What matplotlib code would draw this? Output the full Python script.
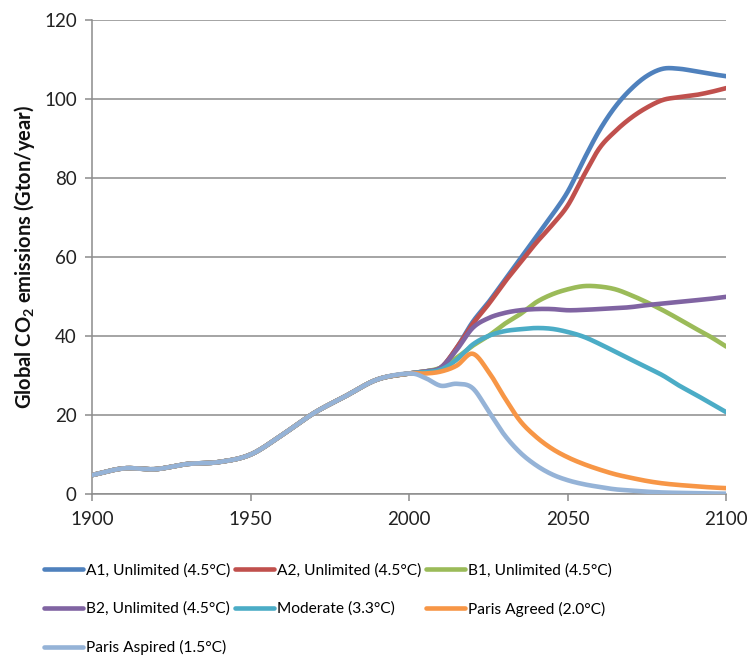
import numpy as np
import matplotlib
matplotlib.use('Agg')
import matplotlib.pyplot as plt

plt.rcParams['font.family'] = ['Lato', 'DejaVu Sans']
plt.rcParams['mathtext.fontset'] = 'custom'
plt.rcParams['mathtext.rm'] = 'Lato'
plt.rcParams['mathtext.bf'] = 'Lato:bold'

# historical emissions, shared by every scenario
hist_years = [1900, 1910, 1920, 1930, 1940, 1950, 1960, 1970, 1980, 1990, 2000]
hist_values = [4.8, 6.5, 6.3, 7.6, 8.1, 10.0, 15.0, 20.5, 24.8, 29.0, 30.5]

# scenario projections, 5-year steps from 2000
future_years = list(range(2000, 2101, 5))
a1 = [30.5, 31, 32, 37, 43.5, 48.5, 54, 59.5, 65, 70.5, 76.5, 84.5, 92, 98, 102.5, 105.8, 107.6, 107.6, 107, 106.3, 105.7]
a2 = [30.5, 31, 32, 37, 43, 48, 53.5, 58.5, 63.5, 68, 73, 80.5, 87.5, 91.8, 95.2, 97.8, 99.7, 100.4, 100.9, 101.7, 102.7]
b1 = [30.5, 31, 32, 34.5, 37.5, 40, 43, 45.5, 48.5, 50.5, 51.8, 52.6, 52.5, 51.8, 50.3, 48.5, 46.5, 44.3, 42, 39.8, 37.3]
b2 = [30.5, 31, 32, 36.5, 42, 44.5, 45.8, 46.5, 46.8, 46.8, 46.5, 46.6, 46.8, 47.0, 47.3, 47.8, 48.2, 48.6, 49.0, 49.4, 49.9]
moderate = [30.5, 30.8, 31.5, 34, 37.8, 40, 41.2, 41.7, 42, 41.8, 41, 39.8, 38, 36, 34, 32, 30, 27.5, 25.3, 23, 20.7]
paris_agreed = [30.5, 30.5, 31, 32.5, 35.5, 31, 24.5, 18.5, 14.5, 11.5, 9.3, 7.6, 6.2, 5.0, 4.1, 3.3, 2.7, 2.3, 2.0, 1.7, 1.5]
paris_aspired = [30.5, 29.4, 27.4, 27.9, 26.8, 21.0, 15, 10.5, 7.3, 5.0, 3.5, 2.5, 1.8, 1.2, 0.9, 0.6, 0.4, 0.3, 0.2, 0.15, 0.1]

labels = ['A1, Unlimited (4.5°C)', 'A2, Unlimited (4.5°C)', 'B1, Unlimited (4.5°C)',
          'B2, Unlimited (4.5°C)', 'Moderate (3.3°C)', 'Paris Agreed (2.0°C)',
          'Paris Aspired (1.5°C)']
colors = ['#4F81BD', '#C0504D', '#9BBB59', '#8064A2', '#4BACC6', '#F79646', '#95B3D7']
scenarios = [a1, a2, b1, b2, moderate, paris_agreed, paris_aspired]


def smooth(x, y, n=24):
    # Catmull-Rom spline through the points (like a smoothed line in a spreadsheet)
    x = np.asarray(x, float)
    y = np.asarray(y, float)
    px = np.concatenate([[2 * x[0] - x[1]], x, [2 * x[-1] - x[-2]]])
    py = np.concatenate([[2 * y[0] - y[1]], y, [2 * y[-1] - y[-2]]])
    xs, ys = [], []
    t = np.linspace(0, 1, n, endpoint=False)
    for i in range(1, len(px) - 2):
        for p, out in ((px, xs), (py, ys)):
            p0, p1, p2, p3 = p[i - 1], p[i], p[i + 1], p[i + 2]
            out.append(0.5 * ((2 * p1) + (-p0 + p2) * t +
                              (2 * p0 - 5 * p1 + 4 * p2 - p3) * t ** 2 +
                              (-p0 + 3 * p1 - 3 * p2 + p3) * t ** 3))
    xs.append([x[-1]])
    ys.append([y[-1]])
    return np.concatenate(xs), np.concatenate(ys)


fig = plt.figure(figsize=(7.48, 6.57), dpi=100)
ax = fig.add_axes([0.123, 0.248, 0.848, 0.722])

lines = []
for vals, lab, col in zip(scenarios, labels, colors):
    yrs = hist_years + future_years[1:]
    v = hist_values + vals[1:]
    sx, sy = smooth(yrs, v)
    ln, = ax.plot(sx, sy, color=col, lw=3.3, label=lab, solid_capstyle='round', zorder=3)
    lines.append(ln)

ax.set_xlim(1900, 2100)
ax.set_ylim(0, 120)
ax.set_xticks([1900, 1950, 2000, 2050, 2100])
ax.set_yticks(range(0, 121, 20))
ax.yaxis.grid(True, color='#8c8c8c', lw=1.1)
ax.set_axisbelow(True)
for s in ['top', 'right']:
    ax.spines[s].set_visible(False)
for s in ['left', 'bottom']:
    ax.spines[s].set_color('#8c8c8c')
    ax.spines[s].set_linewidth(1.1)
ax.tick_params(axis='both', colors='#8c8c8c', length=5, width=1.1, labelsize=13.5,
               labelcolor='#222222')
ax.tick_params(axis='x', pad=7)
ax.tick_params(axis='y', pad=6)

ax.set_ylabel(r'Global CO$_\mathbf{2}$ emissions (Gton/year)', fontsize=14.5,
              fontweight='bold', color='#111111', labelpad=5)

# legend is filled column by column, so order it to read row by row
order = [0, 3, 6, 1, 4, 2, 5]
leg = fig.legend([lines[i] for i in order], [labels[i] for i in order],
                 loc='upper left', bbox_to_anchor=(0.05, 0.152), ncol=3, frameon=False,
                 fontsize=11.2, handlelength=2.5, handletextpad=0.2, columnspacing=0.3,
                 labelspacing=1.55, borderaxespad=0)
for h in leg.legend_handles:
    h.set_linewidth(3.3)

fig.savefig('out.png', dpi=100)
